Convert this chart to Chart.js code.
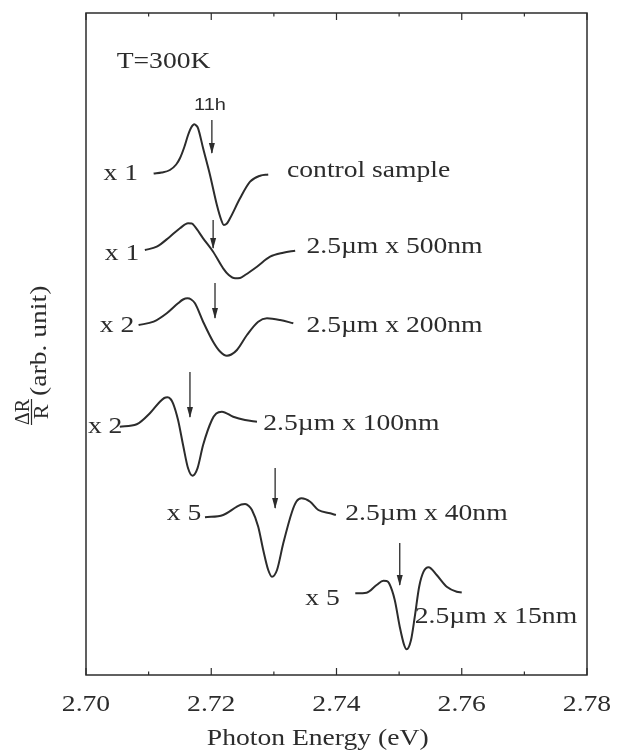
<!DOCTYPE html>
<html lang="en">
<head>
  <meta charset="UTF-8" />
  <title>Photoreflectance spectra, T=300K</title>
  <script src="https://cdn.jsdelivr.net/npm/chart.js"></script>
  <style>
    html, body { margin: 0; padding: 0; background: #fff; }
    #wrap { width: 625px; height: 752px; }
  </style>
</head>
<body>
  <div id="wrap"><canvas id="chart"></canvas></div>

  <script>
    // photon energy (eV) and dR/R (arb. unit, curves shifted vertically)
    const energyControl = [2.7108, 2.7121, 2.7134, 2.7144, 2.7150, 2.7157, 2.7163, 2.7168, 2.7173, 2.7176, 2.7179, 2.7187, 2.7198, 2.7209, 2.7216, 2.7220, 2.7225, 2.7230, 2.7246, 2.7262, 2.7278, 2.7291];
    const signalControl = [50.15, 50.25, 50.5, 51.05, 51.67, 52.8, 54.0, 54.75, 55.07, 54.95, 54.67, 52.67, 50.0, 47.0, 45.5, 45.0, 45.15, 45.67, 47.67, 49.33, 49.93, 50.05];

    const energy500 = [2.7094, 2.7113, 2.7134, 2.7150, 2.7163, 2.7169, 2.7174, 2.7187, 2.7203, 2.7219, 2.7228, 2.7238, 2.7246, 2.7254, 2.7273, 2.7294, 2.7315, 2.7334];
    const signal500 = [42.5, 42.83, 43.83, 44.67, 45.17, 45.15, 44.83, 43.67, 42.33, 40.67, 40.0, 39.67, 39.7, 40.0, 40.83, 41.83, 42.23, 42.43];

    const energy200 = [2.7084, 2.7108, 2.7129, 2.7147, 2.7155, 2.7162, 2.7168, 2.7174, 2.7187, 2.7203, 2.7214, 2.7225, 2.7232, 2.7241, 2.7257, 2.7275, 2.7289, 2.7310, 2.7331];
    const signal200 = [35.0, 35.33, 36.17, 37.17, 37.55, 37.67, 37.55, 37.17, 35.33, 33.33, 32.35, 31.93, 32.05, 32.5, 34.0, 35.33, 35.67, 35.5, 35.17];

    const energy100 = [2.7054, 2.7081, 2.7102, 2.7118, 2.7125, 2.7130, 2.7135, 2.7139, 2.7147, 2.7155, 2.7163, 2.7170, 2.7178, 2.7187, 2.7201, 2.7208, 2.7217, 2.7235, 2.7254, 2.7273];
    const signal100 = [24.83, 25.07, 26.17, 27.33, 27.7, 27.77, 27.6, 27.17, 25.5, 23.0, 20.67, 19.93, 20.67, 23.0, 25.5, 26.15, 26.33, 25.83, 25.5, 25.33];

    const energy40 = [2.7190, 2.7219, 2.7241, 2.7248, 2.7254, 2.7260, 2.7265, 2.7275, 2.7283, 2.7291, 2.7297, 2.7305, 2.7315, 2.7329, 2.7336, 2.7344, 2.7358, 2.7371, 2.7390, 2.7399];
    const signal40 = [15.77, 16.0, 16.83, 17.05, 17.1, 16.9, 16.5, 14.83, 12.5, 10.5, 9.83, 10.5, 13.17, 16.33, 17.35, 17.67, 17.33, 16.5, 16.17, 16.0];

    const energy15 = [2.7430, 2.7448, 2.7464, 2.7475, 2.7480, 2.7484, 2.7493, 2.7501, 2.7508, 2.7512, 2.7519, 2.7525, 2.7532, 2.7539, 2.7547, 2.7560, 2.7576, 2.7592, 2.7600];
    const signal15 = [8.17, 8.23, 9.0, 9.43, 9.4, 9.17, 7.5, 4.83, 3.0, 2.57, 3.5, 5.83, 8.83, 10.33, 10.77, 10.0, 8.83, 8.33, 8.25];

    // 11h transition markers
    const arrowEnergy = [2.7201, 2.7203, 2.7206, 2.7166, 2.7302, 2.7501];
    const arrowTop = [55.5, 45.5, 39.2, 30.3, 20.7, 13.2];
    const arrowTip = [52.2, 42.7, 35.7, 25.8, 16.7, 9.0];

    const xTicks = [2.70, 2.72, 2.74, 2.76, 2.78];
    const xTickLabels = ['2.70', '2.72', '2.74', '2.76', '2.78'];
    const xMinorTicks = [2.71, 2.73, 2.75, 2.77];

    const INK = '#2c2c2c';
    const SERIF = '"Liberation Serif", "DejaVu Serif", serif';

    // text notes placed in data coordinates
    const notes = [
      { text: 'T=300K', x: 2.7049, y: 60.7 },
      { text: 'x 1', x: 2.7028, y: 49.5 },
      { text: 'control sample', x: 2.7321, y: 49.8 },
      { text: 'x 1', x: 2.7030, y: 41.5 },
      { text: '2.5\u00b5m x 500nm', x: 2.7352, y: 42.17 },
      { text: 'x 2', x: 2.7022, y: 34.33 },
      { text: '2.5\u00b5m x 200nm', x: 2.7352, y: 34.33 },
      { text: 'x 2', x: 2.7003, y: 24.17 },
      { text: '2.5\u00b5m x 100nm', x: 2.7283, y: 24.5 },
      { text: 'x 5', x: 2.7129, y: 15.5 },
      { text: '2.5\u00b5m x 40nm', x: 2.7414, y: 15.5 },
      { text: 'x 5', x: 2.7350, y: 7.0 },
      { text: '2.5\u00b5m x 15nm', x: 2.7525, y: 5.17 }
    ];

    const toPoints = (xs, ys) => xs.map((x, i) => ({ x: x, y: ys[i] }));

    const curve = (xs, ys) => ({
      data: toPoints(xs, ys),
      borderColor: INK,
      borderWidth: 2,
      pointRadius: 0,
      cubicInterpolationMode: 'monotone',
      fill: false
    });

    const datasets = [
      curve(energyControl, signalControl),
      curve(energy500, signal500),
      curve(energy200, signal200),
      curve(energy100, signal100),
      curve(energy40, signal40),
      curve(energy15, signal15)
    ];
    arrowEnergy.forEach((e, i) => {
      datasets.push({
        data: [{ x: e, y: arrowTop[i] }, { x: e, y: arrowTip[i] }],
        borderColor: INK,
        borderWidth: 1.3,
        pointRadius: 0,
        tension: 0,
        isArrow: true
      });
    });

    const stretched = (ctx, text, x, y, align, sx) => {
      ctx.save();
      ctx.translate(x, y);
      ctx.scale(sx, 1);
      ctx.textAlign = align;
      ctx.fillText(text, 0, 0);
      ctx.restore();
    };

    const decorations = {
      id: 'decorations',
      afterDatasetsDraw(chart) {
        const ctx = chart.ctx;
        const a = chart.chartArea;
        const xs = chart.scales.x;
        const ys = chart.scales.y;

        // arrow heads
        chart.data.datasets.forEach((ds, i) => {
          if (!ds.isArrow) return;
          const tip = chart.getDatasetMeta(i).data[1];
          ctx.save();
          ctx.fillStyle = INK;
          ctx.beginPath();
          ctx.moveTo(tip.x, tip.y + 1);
          ctx.lineTo(tip.x - 3, tip.y - 10);
          ctx.lineTo(tip.x + 3, tip.y - 10);
          ctx.closePath();
          ctx.fill();
          ctx.restore();
        });

        // frame + inward ticks
        ctx.save();
        ctx.strokeStyle = INK;
        ctx.lineWidth = 1.5;
        ctx.strokeRect(a.left, a.top, a.right - a.left, a.bottom - a.top);
        ctx.lineWidth = 1.2;
        const tick = (v, len) => {
          const px = xs.getPixelForValue(v);
          ctx.beginPath();
          ctx.moveTo(px, a.bottom);
          ctx.lineTo(px, a.bottom - len);
          ctx.moveTo(px, a.top);
          ctx.lineTo(px, a.top + len);
          ctx.stroke();
        };
        xTicks.forEach(v => tick(v, 7));
        xMinorTicks.forEach(v => tick(v, 3.5));
        ctx.restore();

        ctx.save();
        ctx.fillStyle = INK;
        ctx.textBaseline = 'alphabetic';
        ctx.font = '23px ' + SERIF;

        // tick labels
        xTicks.forEach((v, i) => {
          stretched(ctx, xTickLabels[i], xs.getPixelForValue(v), a.bottom + 36, 'center', 1.2);
        });

        // x axis title
        stretched(ctx, 'Photon Energy (eV)', xs.getPixelForValue(2.737), a.bottom + 70, 'center', 1.2);

        // notes
        notes.forEach(n => {
          stretched(ctx, n.text, xs.getPixelForValue(n.x), ys.getPixelForValue(n.y), 'left', 1.2);
        });

        // 11h label
        ctx.font = '16px "Liberation Sans", Arial, sans-serif';
        stretched(ctx, '11h', xs.getPixelForValue(2.7198), ys.getPixelForValue(56.5), 'center', 1.25);

        // y axis title: dR/R (arb. unit)
        ctx.font = '23px ' + SERIF;
        ctx.save();
        ctx.translate(46, 396);
        ctx.rotate(-Math.PI / 2);
        ctx.scale(1.2, 1);
        ctx.textAlign = 'left';
        ctx.fillText('(arb. unit)', 0, 0);
        ctx.restore();

        ctx.save();
        ctx.translate(31.5, 412);
        ctx.rotate(-Math.PI / 2);
        ctx.font = '22px ' + SERIF;
        ctx.textAlign = 'center';
        ctx.save();
        ctx.scale(0.9, 1);
        ctx.fillText('\u0394R', 0, -2.5);
        ctx.restore();
        ctx.fillText('R', 0, 16.5);
        ctx.strokeStyle = INK;
        ctx.lineWidth = 1.2;
        ctx.beginPath();
        ctx.moveTo(-13, 0);
        ctx.lineTo(13, 0);
        ctx.stroke();
        ctx.restore();

        ctx.restore();
      }
    };

    new Chart(document.getElementById('chart'), {
      type: 'line',
      data: { datasets: datasets },
      options: {
        responsive: true,
        maintainAspectRatio: false,
        animation: false,
        layout: { padding: { left: 86, right: 38, top: 13, bottom: 77 } },
        plugins: { legend: { display: false }, tooltip: { enabled: false } },
        scales: {
          x: { type: 'linear', min: 2.70, max: 2.78, display: false },
          y: { type: 'linear', min: 0, max: 66.2, display: false }
        }
      },
      plugins: [decorations]
    });
  </script>
</body>
</html>
